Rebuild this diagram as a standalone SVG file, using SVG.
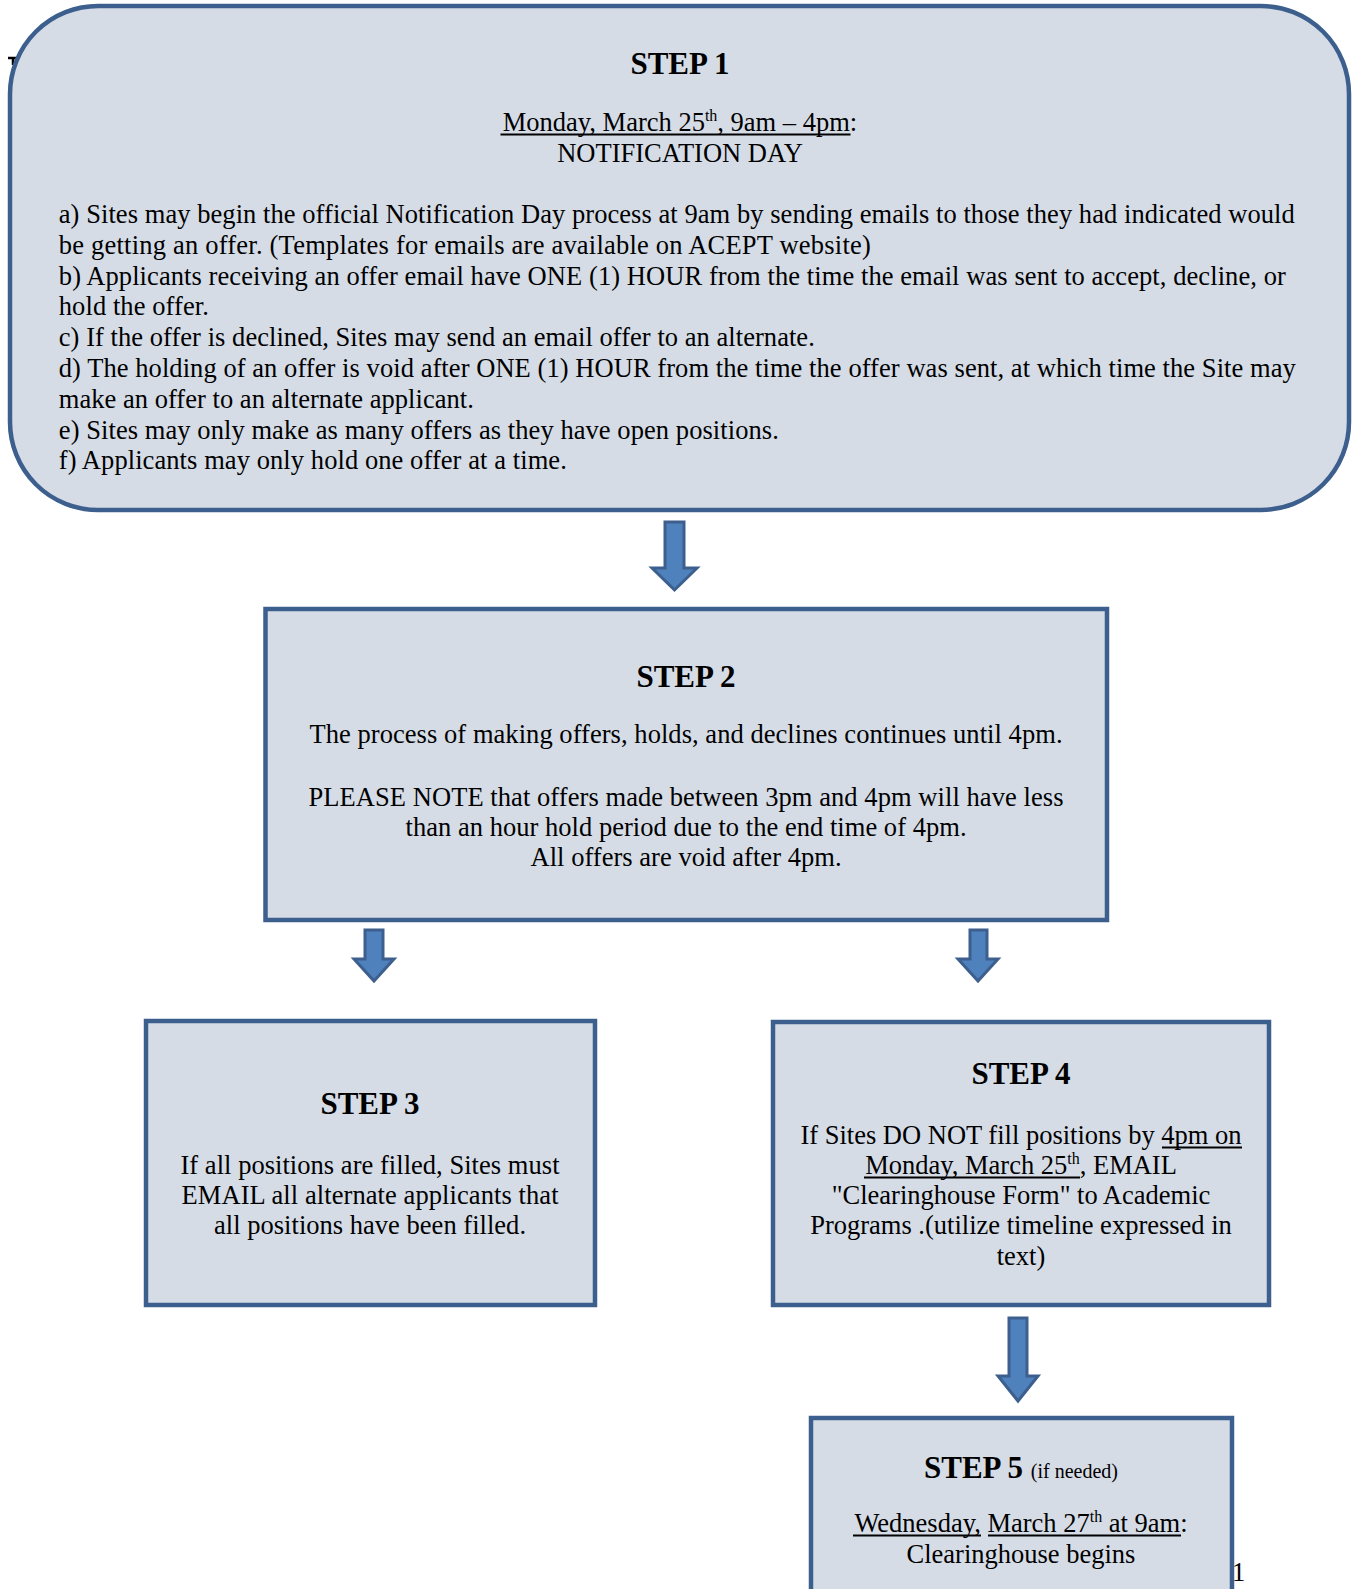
<svg xmlns="http://www.w3.org/2000/svg" width="1354" height="1589" viewBox="0 0 1354 1589">
<style>
.box{fill:#d5dce6;stroke:#3c5f8d;stroke-width:4.5}
.arr{fill:#4f81bd;stroke:#3c5f8d;stroke-width:3;stroke-linejoin:miter}
.ul{stroke:#000;stroke-width:1.8}
text{font-family:"Liberation Serif","Times New Roman",serif;fill:#000}
.t{font-size:26.5px}
.h{font-size:31px;font-weight:bold}
.c{text-anchor:middle}
.sup{font-size:16px}
.small{font-size:20px;font-weight:normal}
</style>
<rect width="1354" height="1589" fill="#ffffff"/>
<path d="M8,58 H18 M13,58 V65" stroke="#000" stroke-width="2.5" fill="none"/>
<g id="connectors">
<path class="arr" d="M665,522 H684 V568 H697 L674.5,590 L652,568 H665 Z"/>
<path class="arr" d="M365,930 H383 V959 H394 L374,981 L354,959 H365 Z"/>
<path class="arr" d="M970,930 H987 V959 H998 L978,981 L958,959 H970 Z"/>
<path class="arr" d="M1009,1318 H1027 V1376 H1038 L1018,1401 L998,1376 H1009 Z"/>
</g>
<g id="step1">
<rect class="box" x="10" y="6" width="1339" height="504" rx="88" ry="88"/>
<text class="h c" x="680" y="74">STEP 1</text>
<text class="t c" x="680" y="131">Monday, March 25<tspan class="sup" dy="-10">th</tspan><tspan dy="10">, 9am – 4pm:</tspan></text>
<line class="ul" x1="500.5" y1="134.5" x2="850.5" y2="134.5"/>
<text class="t c" x="680" y="161.5">NOTIFICATION DAY</text>
<text class="t" x="58.8" y="223" textLength="1236" lengthAdjust="spacing">a) Sites may begin the official Notification Day process at 9am by sending emails to those they had indicated would</text>
<text class="t" x="58.8" y="253.8" textLength="812" lengthAdjust="spacing">be getting an offer.  (Templates for emails are available on ACEPT website)</text>
<text class="t" x="58.8" y="284.6" textLength="1227" lengthAdjust="spacing">b) Applicants receiving an offer email have ONE (1) HOUR from the time the email was sent to accept, decline, or</text>
<text class="t" x="58.8" y="315.4" textLength="150" lengthAdjust="spacing">hold the offer.</text>
<text class="t" x="58.8" y="346.2" textLength="756" lengthAdjust="spacing">c) If the offer is declined, Sites may send an email offer to an alternate.</text>
<text class="t" x="58.8" y="377" textLength="1237" lengthAdjust="spacing">d) The holding of an offer is void after ONE (1) HOUR from the time the offer was sent, at which time the Site may</text>
<text class="t" x="58.8" y="407.8" textLength="415" lengthAdjust="spacing">make an offer to an alternate applicant.</text>
<text class="t" x="58.8" y="438.6" textLength="720" lengthAdjust="spacing">e) Sites may only make as many offers as they have open positions.</text>
<text class="t" x="58.8" y="469.4" textLength="508" lengthAdjust="spacing">f) Applicants may only hold one offer at a time.</text>
</g>
<g id="step2">
<rect class="box" x="265.5" y="609" width="841.5" height="311"/>
<text class="h c" x="686" y="687">STEP 2</text>
<text class="t c" x="686" y="743" textLength="753" lengthAdjust="spacing">The process of making offers, holds, and declines continues until 4pm.</text>
<text class="t c" x="686" y="806" textLength="755" lengthAdjust="spacing">PLEASE NOTE that offers made between 3pm and 4pm will have less</text>
<text class="t c" x="686" y="836" textLength="561" lengthAdjust="spacing">than an hour hold period due to the end time of 4pm.</text>
<text class="t c" x="686" y="866" textLength="311" lengthAdjust="spacing">All offers are void after 4pm.</text>
</g>
<g id="step3">
<rect class="box" x="146" y="1021" width="449" height="284"/>
<text class="h c" x="370" y="1114">STEP 3</text>
<text class="t c" x="370" y="1174" textLength="379" lengthAdjust="spacing">If all positions are filled, Sites must</text>
<text class="t c" x="370" y="1204" textLength="377" lengthAdjust="spacing">EMAIL all alternate applicants that</text>
<text class="t c" x="370" y="1234" textLength="312" lengthAdjust="spacing">all positions have been filled.</text>
</g>
<g id="step4">
<rect class="box" x="773" y="1022" width="496" height="283"/>
<text class="h c" x="1021" y="1084">STEP 4</text>
<text class="t c" x="1021" y="1144">If Sites DO NOT fill positions by 4pm on</text>
<line class="ul" x1="1162" y1="1147.5" x2="1242" y2="1147.5"/>
<text class="t c" x="1021" y="1174">Monday, March 25<tspan class="sup" dy="-10">th</tspan><tspan dy="10">, EMAIL</tspan></text>
<line class="ul" x1="864" y1="1177.5" x2="1080" y2="1177.5"/>
<text class="t c" x="1021" y="1204">"Clearinghouse Form" to Academic</text>
<text class="t c" x="1021" y="1234">Programs .(utilize timeline expressed in</text>
<text class="t c" x="1021" y="1265">text)</text>
</g>
<g id="step5">
<rect class="box" x="811" y="1418" width="421" height="200"/>
<text class="h c" x="1021" y="1478">STEP 5 <tspan class="small">(if needed)</tspan></text>
<text class="t c" x="1021" y="1532">Wednesday, March 27<tspan class="sup" dy="-10">th</tspan><tspan dy="10"> at 9am:</tspan></text>
<line class="ul" x1="853" y1="1535.5" x2="981" y2="1535.5"/>
<line class="ul" x1="988" y1="1535.5" x2="1181" y2="1535.5"/>
<text class="t c" x="1021" y="1563">Clearinghouse begins</text>
</g>
<text class="t" x="1232" y="1581">1</text>
</svg>
